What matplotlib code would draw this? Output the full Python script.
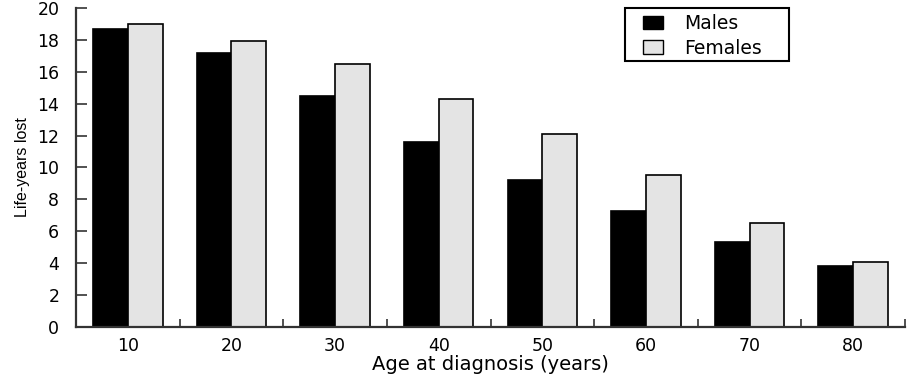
import numpy as np
import matplotlib.pyplot as plt
from matplotlib.patches import Patch, Rectangle

plt.rcParams['font.family'] = 'DejaVu Sans'

# Data
ages = [10, 20, 30, 40, 50, 60, 70, 80]
males = [18.7, 17.2, 14.5, 11.6, 9.2, 7.3, 5.3, 3.8]
females = [19.0, 17.9, 16.5, 14.3, 12.1, 9.5, 6.5, 4.1]

x = np.arange(1, len(ages) + 1)
w = 0.335

fig = plt.figure(figsize=(9.08, 3.75), dpi=100)
ax = fig.add_axes([0.0837, 0.128, 0.913, 0.851])

ax.bar(x - w / 2, males, w, color='black', edgecolor='black', linewidth=1.2)
ax.bar(x + w / 2, females, w, color='#e4e4e4', edgecolor='black', linewidth=1.2)

ax.set_xlim(0.5, 8.5)
ax.set_ylim(0, 20)

# spines
for s in ['top', 'right']:
    ax.spines[s].set_visible(False)
for s in ['left', 'bottom']:
    ax.spines[s].set_linewidth(1.6)
    ax.spines[s].set_color('#333333')

# ticks
ax.set_yticks(range(0, 21, 2))
ax.tick_params(axis='y', direction='in', length=8, width=1.2, color='#333333',
               labelsize=12.5, pad=12)
ax.set_xticks(x)
ax.set_xticklabels([str(a) for a in ages])
ax.set_xticks(np.arange(1.5, 9, 1), minor=True)
ax.tick_params(axis='x', which='major', length=0, labelsize=12.5, pad=7)
ax.tick_params(axis='x', which='minor', direction='in', length=6, width=1.2,
               color='#333333')

ax.set_xlabel('Age at diagnosis (years)', fontsize=14, labelpad=0)
ax.set_ylabel('Life-years lost', fontsize=11.5, family='Liberation Sans',
              labelpad=5)

# legend: contents without frame, box drawn separately to match the reference
handles = [Patch(facecolor='black', edgecolor='black', label='Males'),
           Patch(facecolor='#e4e4e4', edgecolor='black', label='Females')]
leg = fig.legend(handles=handles, loc='upper left',
                 bbox_to_anchor=(0.708, 0.963), frameon=False,
                 fontsize=13.5, handlelength=1.1, handleheight=0.72,
                 handletextpad=1.1, borderpad=0, labelspacing=0.3,
                 borderaxespad=0)
fig.add_artist(Rectangle((625 / 908, 1 - 61 / 375), 164 / 908, 53 / 375,
                         transform=fig.transFigure, fill=False,
                         edgecolor='black', linewidth=1.5))

fig.savefig('out.png', dpi=100)
